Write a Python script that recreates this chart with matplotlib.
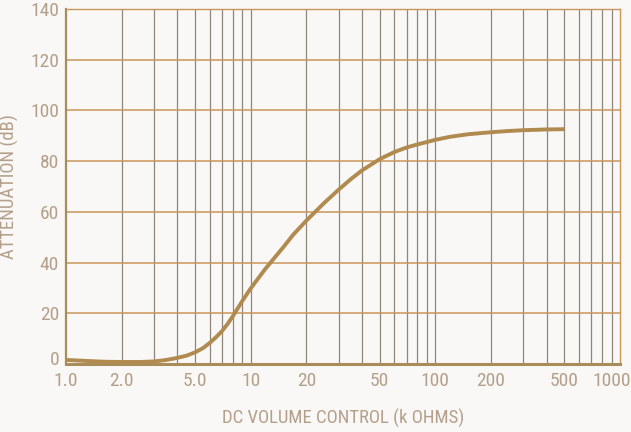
import matplotlib.pyplot as plt
from matplotlib import font_manager
from matplotlib.transforms import ScaledTranslation
from matplotlib.ticker import FixedLocator, NullFormatter

# DC volume control (k ohms) vs attenuation (dB)
resistance = [1.0, 1.3, 1.6, 2.0, 2.5, 3.0, 3.5, 4.0, 4.5, 5.0, 5.5, 6.0, 6.5,
              7.0, 7.5, 8.0, 9.0, 10, 12, 15, 17, 20, 25, 30, 35, 40, 50, 60,
              70, 80, 100, 120, 150, 200, 250, 300, 400, 500]
attenuation = [1.6, 1.2, 0.9, 0.8, 0.8, 1.0, 1.6, 2.4, 3.3, 4.6, 6.2, 8.3, 10.6,
               13.0, 15.8, 18.8, 24.8, 29.8, 37.5, 46.0, 51.0, 56.5, 63.5, 68.8,
               73.0, 76.3, 80.8, 83.6, 85.4, 86.6, 88.4, 89.6, 90.6, 91.4, 91.9,
               92.2, 92.5, 92.6]

x_ticks = [1, 2, 5, 10, 20, 50, 100, 200, 500, 1000]
x_labels = ['1.0', '2.0', '5.0', '10', '20', '50', '100', '200', '500', '1000']
y_ticks = [0, 20, 40, 60, 80, 100, 120, 140]

bg = '#f9f8f6'
tan = '#c9955a'
curve = '#b08a4e'
vgrid = '#8f867c'
text_col = '#b4a08a'

installed = {f.name for f in font_manager.fontManager.ttflist}
narrow = [n for n in ['Liberation Sans Narrow', 'DejaVu Sans Condensed',
                      'Roboto Condensed', 'Open Sans Condensed'] if n in installed]
plt.rcParams['font.family'] = narrow + ['Liberation Sans', 'DejaVu Sans']

fig = plt.figure(figsize=(6.31, 4.32), dpi=100, facecolor=bg)
ax = fig.add_axes([66 / 631, 1 - 364 / 432, 554 / 631, 355 / 432])
ax.set_facecolor(bg)

ax.set_xscale('log')
ax.set_xlim(1, 1000)
ax.set_ylim(0, 140)

# minor vertical grid at 2..9 in each decade
minors = [m * 10 ** d for d in range(3) for m in range(1, 10)][1:]
ax.xaxis.set_major_locator(FixedLocator(x_ticks))
ax.xaxis.set_minor_locator(FixedLocator(minors))
ax.xaxis.set_minor_formatter(NullFormatter())
ax.set_xticks(x_ticks, x_labels)
ax.set_yticks(y_ticks)

for v in minors:
    ax.axvline(v, color=vgrid, lw=0.9, zorder=1)
for v in y_ticks[1:]:
    ax.axhline(v, color=tan, lw=1.1, zorder=1)

ax.plot(resistance, attenuation, color=curve, lw=2.8, zorder=3,
        solid_capstyle='butt')

for s in ax.spines.values():
    s.set_color(tan)
    s.set_linewidth(1.0)
ax.spines['bottom'].set_color('#a88d5a')
ax.spines['bottom'].set_linewidth(2.2)
ax.spines['left'].set_color('#a88d5a')
ax.spines['left'].set_linewidth(1.6)

fs = 14
ax.tick_params(which='both', length=0, colors=text_col, labelsize=fs)
ax.tick_params(axis='x', pad=6)
ax.tick_params(axis='y', pad=5)

# last x label sits a bit left of the frame edge, as in the original
last = ax.get_xticklabels()[-1]
last.set_transform(last.get_transform() + ScaledTranslation(-8 / 100, 0, fig.dpi_scale_trans))
# the "0" label is lifted a little above the bottom line
zero = ax.get_yticklabels()[0]
zero.set_transform(zero.get_transform() + ScaledTranslation(0, 6 / 100, fig.dpi_scale_trans))

ax.set_xlabel('DC VOLUME CONTROL (k OHMS)', color=text_col, fontsize=fs - 0.5,
              labelpad=13)
ax.set_ylabel('ATTENUATION (dB)', color=text_col, fontsize=fs - 0.5, labelpad=8)

fig.savefig('out.png', dpi=100, facecolor=bg)
